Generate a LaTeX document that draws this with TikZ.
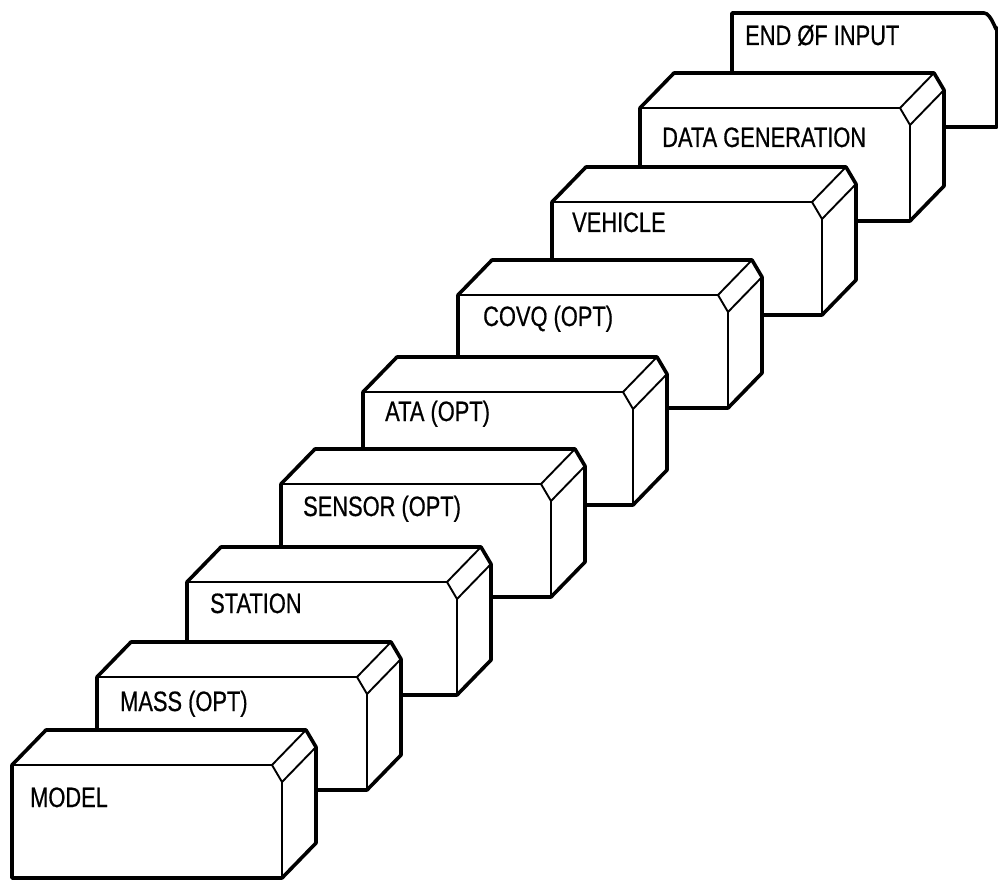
\documentclass[tikz,border=0pt]{standalone}
\usepackage{fontspec}
\setmainfont{Liberation Sans}[FakeStretch=0.78, FakeBold=0.6]
\usepackage{tikz}

\begin{document}
\begin{tikzpicture}[
    x=1pt, y=-1pt,
    outline/.style={line width=3.6pt, line join=round, fill=white},
    edge/.style={line width=1.9pt, line join=round},
    boxlabel/.style={anchor=base west, inner sep=0pt, font=\fontsize{28}{30}\selectfont}
]
\useasboundingbox (0,0) rectangle (998,882);
\clip (0,0) rectangle (998,882);
% last card, seen flat
\filldraw[outline] (732,127) -- (732,13) -- (984,13) to[out=0, in=-90] (997,28) -- (997,127) -- cycle;
\node[boxlabel] (endinput) at (745,45) {END ØF INPUT};
% back to front, so that each box hides the one behind it
\foreach \x/\y/\lx/\ly/\name/\txt in {
    640/108/22/29/datagen/{DATA GENERATION},
    552/202/20/20/vehicle/{VEHICLE},
    458/295/25/21/covq/{COVQ (OPT)},
    363/392/22/19/ata/{ATA (OPT)},
    281/484/22/22/sensor/{SENSOR (OPT)},
    187/582/23/21/station/{STATION},
    97/677/23/24/mass/{MASS (OPT)},
    12/765/18/32/model/{MODEL}} {
    \filldraw[outline] (\x,\y+113) -- (\x,\y) -- (\x+34,\y-35) -- (\x+294,\y-35)
        -- (\x+304,\y-18) -- (\x+304,\y+78) -- (\x+270,\y+113) -- cycle;
    \draw[edge] (\x,\y) -- (\x+260,\y) -- (\x+270,\y+17) -- (\x+270,\y+113);
    \draw[edge] (\x+260,\y) -- (\x+294,\y-35);
    \draw[edge] (\x+270,\y+17) -- (\x+304,\y-18);
    \node[boxlabel] (\name) at (\x+\lx,\y+\ly+10) {\txt};
}
\end{tikzpicture}
\end{document}
